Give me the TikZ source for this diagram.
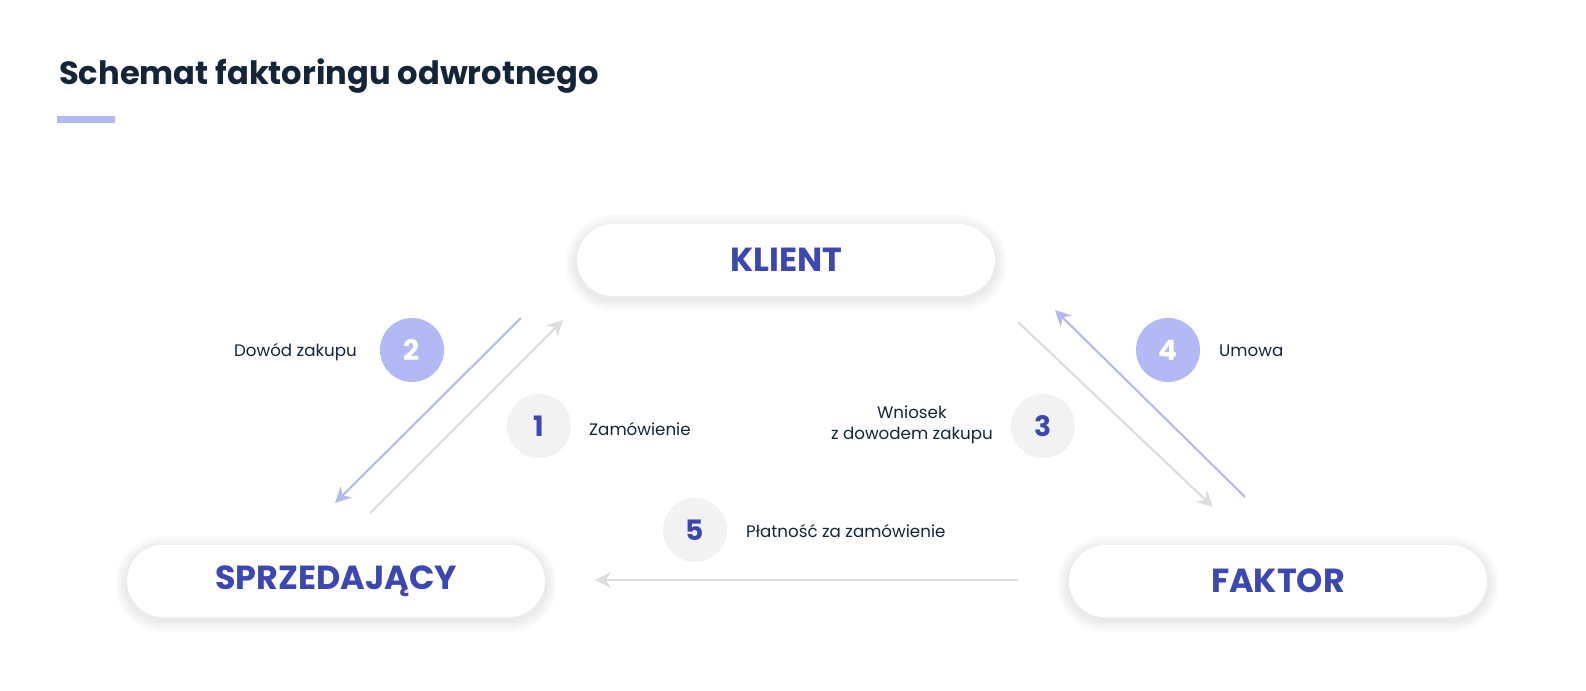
\documentclass[tikz,border=0pt]{standalone}
\usepackage{fontspec}
\setmainfont{Poppins}
\usetikzlibrary{arrows.meta}
\definecolor{navy}{HTML}{14253A}
\definecolor{accent}{HTML}{3D47B3}
\definecolor{lblue}{HTML}{B3B9F5}
\definecolor{lgray}{HTML}{DCDCDC}
\definecolor{cgray}{HTML}{F2F2F2}
\begin{document}
\begin{tikzpicture}[x=0.02cm,y=-0.02cm,
  party/.style={draw=none,fill=white,rounded corners=0.72cm,minimum width=8.36cm,minimum height=1.44cm,
    font=\fontsize{19}{22}\selectfont\bfseries,text=accent},
  numb/.style={circle,minimum size=1.28cm,inner sep=0pt,font=\fontsize{16}{18}\selectfont\bfseries},
  numblue/.style={numb,fill=lblue,text=white},
  numgray/.style={numb,fill=cgray,text=accent},
  lbl/.style={font=\fontsize{9.5}{12}\selectfont,text=navy},
  garr/.style={draw=lgray,line width=1.2pt,-{Stealth[length=9pt,width=9pt]}},
  barr/.style={draw=lblue,line width=1.2pt,-{Stealth[length=9pt,width=9pt]}}]
\fill[white] (0,0) rectangle (1586,690);
\useasboundingbox (0,0) rectangle (1586,690);
\foreach \cx/\cy in {786/260,336/581,1278/581}{
  \foreach \g in {12,9,6,3}{
    \fill[black,opacity=0.018,rounded corners=0.72cm+\g*0.02cm]
      (\cx-209-\g,\cy-36-\g+3) rectangle (\cx+209+\g,\cy+36+\g+3);
  }
}
\node[anchor=west,text=navy,font=\fontsize{18.3}{22}\selectfont\bfseries] (title) at (53,76) {Schemat faktoringu odwrotnego};
\fill[lblue] (57,116) rectangle (115,123);
\node[party] (klient) at (786,260) {KLIENT};
\node[party] (sprz) at (336,581) {SPRZEDAJĄCY};
\node[party] (faktor) at (1278,581) {FAKTOR};
\coordinate (a1s) at (370,513); \coordinate (a1e) at (563,320);
\coordinate (a2s) at (521,318); \coordinate (a2e) at (335,503);
\coordinate (a3s) at (1018,322); \coordinate (a3e) at (1213,507);
\coordinate (a4s) at (1245,497); \coordinate (a4e) at (1055,310);
\coordinate (a5s) at (1018,580); \coordinate (a5e) at (595,580);
\draw[garr] (a1s) -- (a1e);
\draw[barr] (a2s) -- (a2e);
\draw[garr] (a3s) -- (a3e);
\draw[barr] (a4s) -- (a4e);
\draw[garr] (a5s) -- (a5e);
\node[numblue] (n2) at (412,350) {2};
\node[numgray] (n1) at (539,426) {1};
\node[numgray] (n3) at (1043,426) {3};
\node[numblue] (n4) at (1168,350) {4};
\node[numgray] (n5) at (695,530) {5};
\node[lbl,anchor=east] (l2) at (363,352) {Dowód zakupu};
\node[lbl,anchor=west] (l1) at (583,429) {Zamówienie};
\node[lbl,anchor=east,align=center] (l3) at (999,425) {Wniosek\\z dowodem zakupu};
\node[lbl,anchor=west] (l4) at (1213,351) {Umowa};
\node[lbl,anchor=west] (l5) at (740,531) {Płatność za zamówienie};
\end{tikzpicture}
\end{document}
